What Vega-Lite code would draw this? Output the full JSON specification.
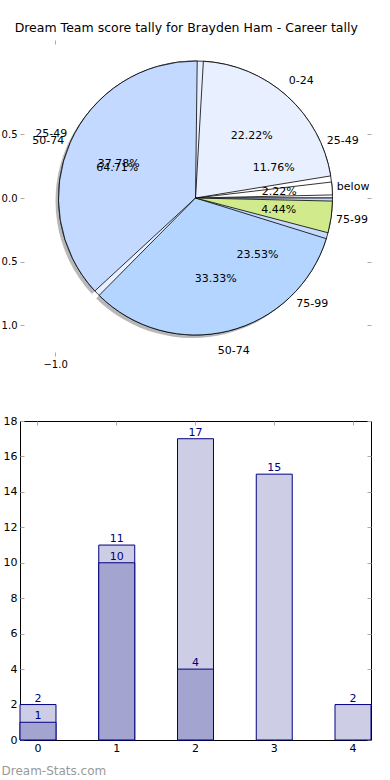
{
  "$schema": "https://vega.github.io/schema/vega-lite/v6.json",
  "padding": {"left": 0, "top": 22, "right": 0, "bottom": 0},
  "bounds": "flush",
  "spacing": 65,
  "background": "white",
  "config": {
    "font": "DejaVu Sans",
    "view": {"stroke": null},
    "axis": {
      "labelFont": "DejaVu Sans",
      "labelFontSize": 11,
      "labelColor": "black",
      "tickColor": "#aaaaaa",
      "tickSize": -4,
      "labelPadding": 7,
      "domain": false,
      "grid": false
    }
  },
  "title": {
    "text": "Dream Team score tally for Brayden Ham - Career tally",
    "anchor": "middle",
    "fontSize": 12.5,
    "fontWeight": "normal",
    "color": "black",
    "font": "DejaVu Sans",
    "offset": 5
  },
  "datasets": {
    "pie1": [
      {"band": "below", "pct": 2.22, "label": "2.22%", "ord": 1},
      {"band": "0-24", "pct": 22.22, "label": "22.22%", "ord": 2},
      {"band": "25-49", "pct": 37.78, "label": "37.78%", "ord": 3},
      {"band": "50-74", "pct": 33.33, "label": "33.33%", "ord": 4},
      {"band": "75-99", "pct": 4.44, "label": "4.44%", "ord": 5}
    ],
    "pie2": [
      {"band": "25-49", "pct": 11.76, "label": "11.76%", "ord": 1},
      {"band": "50-74", "pct": 64.71, "label": "64.71%", "ord": 2},
      {"band": "75-99", "pct": 23.53, "label": "23.53%", "ord": 3}
    ],
    "bars": [
      {"g": 0, "light": 2, "dark": 1},
      {"g": 1, "light": 11, "dark": 10},
      {"g": 2, "light": 17, "dark": 4},
      {"g": 3, "light": 15, "dark": null},
      {"g": 4, "light": 2, "dark": null}
    ]
  },
  "vconcat": [
    {
      "width": 351,
      "height": 316,
      "layer": [
        {
          "data": {"values": [{"x": -1, "y": 0}]},
          "mark": {"type": "point", "opacity": 0},
          "encoding": {
            "x": {"field": "x", "type": "quantitative",
              "scale": {"domain": [-1.25, 1.25], "nice": false, "zero": false},
              "axis": {"orient": "bottom", "values": [-1], "labelExpr": "format(datum.value, '.1f')", "title": null, "labelFontSize": 10}},
            "y": {"field": "y", "type": "quantitative",
              "scale": {"domain": [-1.24, 1.24], "nice": false, "zero": false},
              "axis": {"orient": "left", "values": [0.5, 0, -0.5, -1], "labelExpr": "format(abs(datum.value), '.1f')", "title": null, "labelFontSize": 10}}
          }
        },
        {
          "data": {"values": [{"x": -1, "y": 0}]},
          "mark": {"type": "point", "opacity": 0},
          "encoding": {
            "x": {"field": "x", "type": "quantitative",
              "axis": {"orient": "top", "values": [-1], "labels": false, "title": null}},
            "y": {"field": "y", "type": "quantitative",
              "axis": {"orient": "right", "values": [0.5, 0, -0.5, -1], "labels": false, "title": null}}
          }
        },
        {
          "data": {"name": "pie1"},
          "mark": {"type": "arc", "radius": 137, "fill": "#888888", "opacity": 0.6, "xOffset": -3, "yOffset": 3, "padAngle": 0.045},
          "encoding": {
            "theta": {"field": "pct", "type": "quantitative", "stack": "normalize", "scale": {"range": [1.5707963, -4.712389]}},
            "order": {"field": "ord", "type": "quantitative"}
          }
        },
        {
          "data": {"name": "pie2"},
          "mark": {"type": "arc", "radius": 137, "stroke": "black", "strokeWidth": 0.8},
          "encoding": {
            "theta": {"field": "pct", "type": "quantitative", "stack": "normalize"},
            "order": {"field": "ord", "type": "quantitative"},
            "color": {"field": "band", "type": "nominal",
              "scale": {"domain": ["25-49", "50-74", "75-99"], "range": ["#ffffff", "#e8f0ff", "#c6d9ff"]},
              "legend": null}
          }
        },
        {
          "data": {"name": "pie1"},
          "mark": {"type": "arc", "radius": 137, "stroke": "black", "strokeWidth": 0.8, "padAngle": 0.045},
          "encoding": {
            "theta": {"field": "pct", "type": "quantitative", "stack": "normalize"},
            "order": {"field": "ord", "type": "quantitative"},
            "color": {"field": "band", "type": "nominal",
              "scale": {"domain": ["below", "0-24", "25-49", "50-74", "75-99"], "range": ["#ffffff", "#e8f0ff", "#c4d9ff", "#b3d5ff", "#d0ea8c"]},
              "legend": null}
          }
        },
        {
          "data": {"name": "pie2"},
          "mark": {"type": "text", "radius": 84, "fontSize": 11, "color": "black"},
          "encoding": {
            "theta": {"field": "pct", "type": "quantitative", "stack": "normalize"},
            "order": {"field": "ord", "type": "quantitative"},
            "text": {"field": "label"}
          }
        },
        {
          "data": {"name": "pie2"},
          "mark": {"type": "text", "radius": 158, "fontSize": 11, "color": "black"},
          "encoding": {
            "theta": {"field": "pct", "type": "quantitative", "stack": "normalize"},
            "order": {"field": "ord", "type": "quantitative"},
            "text": {"field": "band"}
          }
        },
        {
          "data": {"name": "pie1"},
          "mark": {"type": "text", "radius": 84, "fontSize": 11, "color": "black"},
          "encoding": {
            "theta": {"field": "pct", "type": "quantitative", "stack": "normalize"},
            "order": {"field": "ord", "type": "quantitative"},
            "text": {"field": "label"}
          }
        },
        {
          "data": {"name": "pie1"},
          "mark": {"type": "text", "radius": 158, "fontSize": 11, "color": "black"},
          "encoding": {
            "theta": {"field": "pct", "type": "quantitative", "stack": "normalize"},
            "order": {"field": "ord", "type": "quantitative"},
            "text": {"field": "band"}
          }
        }
      ],
      "resolve": {"axis": {"x": "independent", "y": "independent"}, "scale": {"color": "independent"}}
    },
    {
      "width": 351,
      "height": 319,
      "view": {"stroke": "black", "strokeWidth": 1},
      "data": {"name": "bars"},
      "layer": [
        {
          "mark": {"type": "bar", "fill": "#cdcde5", "stroke": "#000080", "strokeWidth": 1},
          "encoding": {
            "x": {"field": "g", "type": "ordinal",
              "scale": {"paddingInner": 0.543, "paddingOuter": 0},
              "axis": {"orient": "bottom", "labelAngle": 0, "labelPadding": 6, "title": "Dream-Stats.com",
                "titleAnchor": "start", "titleAlign": "left", "titleX": -19, "titleY": 34,
                "titleBaseline": "alphabetic", "titleColor": "#999999", "titleFontSize": 12,
                "titleFontWeight": "normal", "titleFont": "DejaVu Sans"}},
            "y": {"field": "light", "type": "quantitative",
              "scale": {"domain": [0, 18], "nice": false},
              "axis": {"orient": "left", "values": [0, 2, 4, 6, 8, 10, 12, 14, 16, 18], "title": null}}
          }
        },
        {
          "mark": {"type": "bar", "fill": "#a3a5d0", "stroke": "#000080", "strokeWidth": 1},
          "encoding": {
            "x": {"field": "g", "type": "ordinal", "axis": null},
            "y": {"field": "dark", "type": "quantitative", "axis": null}
          }
        },
        {
          "mark": {"type": "text", "color": "#000080", "fontSize": 11, "baseline": "bottom", "dy": -1},
          "encoding": {
            "x": {"field": "g", "type": "ordinal", "axis": null},
            "y": {"field": "light", "type": "quantitative", "axis": null},
            "text": {"field": "light"}
          }
        },
        {
          "mark": {"type": "text", "color": "#000080", "fontSize": 11, "baseline": "bottom", "dy": -1},
          "encoding": {
            "x": {"field": "g", "type": "ordinal", "axis": null},
            "y": {"field": "dark", "type": "quantitative", "axis": null},
            "text": {"field": "dark"}
          }
        },
        {
          "mark": {"type": "point", "opacity": 0},
          "encoding": {
            "x": {"field": "g", "type": "ordinal", "axis": {"orient": "top", "labels": false, "title": null}},
            "y": {"field": "light", "type": "quantitative", "axis": {"orient": "right", "labels": false, "title": null, "values": [0, 2, 4, 6, 8, 10, 12, 14, 16, 18]}}
          }
        }
      ],
      "resolve": {"axis": {"x": "independent", "y": "independent"}}
    }
  ]
}
